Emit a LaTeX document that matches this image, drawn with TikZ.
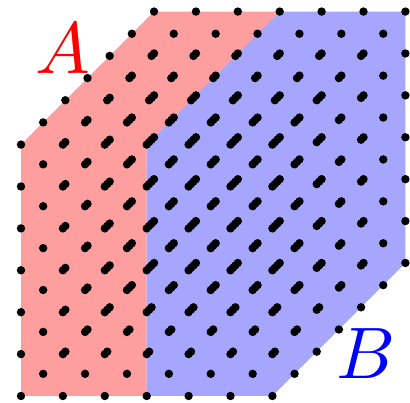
\documentclass[tikz,border=0pt]{standalone}
\usepackage{tikz}
\begin{document}
\begin{tikzpicture}[x=1pt,y=1pt,
  lbl/.style={inner sep=0pt, scale=7.3}]
\useasboundingbox (0,0) rectangle (410,403);
\def\g{41.9}\def\d{22.17}
\fill[red!38] (21,7) -- (21,258.4) -- (154,391.4) -- (279.7,391.4) -- (146.7,258.4) -- (146.7,7) -- cycle;
\fill[blue!35] (146.7,7) -- (146.7,258.4) -- (279.7,391.4) -- (405.4,391.4) -- (405.4,140) -- (272.4,7) -- cycle;
\foreach \i in {0,...,6} \foreach \j in {0,...,6} \foreach \k in {0,...,6}
  \fill (21+\g*\i+\d*\k, 7+\g*\j+\d*\k) circle (4.2pt);
\node[lbl, text=red] (A) at (63,354) {$A$};
\node[lbl, text=blue] (B) at (366,49) {$B$};
\end{tikzpicture}
\end{document}
